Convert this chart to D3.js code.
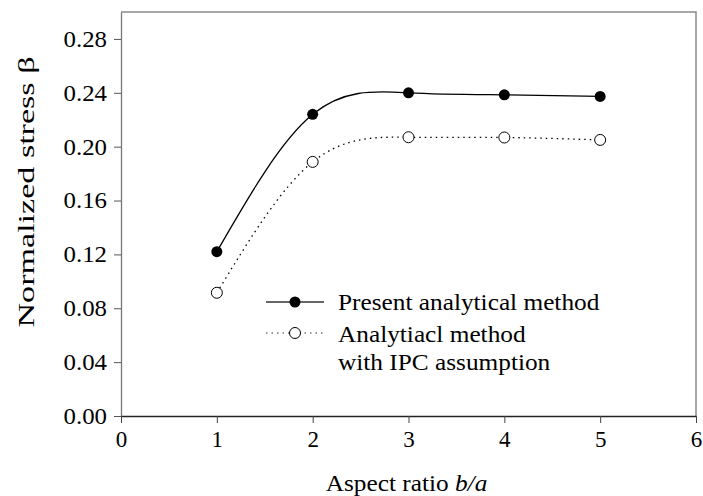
<!DOCTYPE html>
<html>
<head>
<meta charset="utf-8">
<script src="https://cdn.jsdelivr.net/npm/d3@7"></script>
</head>
<body style="margin:0">
<script>
// values
let ratios = [1, 2, 3, 4, 5];
let present = [0.122, 0.224, 0.240, 0.2385, 0.2373];
let ipc = [0.0915, 0.1887, 0.207, 0.2068, 0.205];
let xTicks = [0, 1, 2, 3, 4, 5, 6];
let yTicks = [0.00, 0.04, 0.08, 0.12, 0.16, 0.20, 0.24, 0.28];
let seriesNames = ["Present analytical method", "Analytiacl method", "with IPC assumption"];

let W = 703, H = 496;
let margin = {top: 12, right: 7, bottom: 80, left: 121};
let w = W - margin.left - margin.right;
let h = H - margin.top - margin.bottom;
let stretch = 1.1;   // the reference lettering is a bit wider than Times

function serif (sel, size) {
    sel.style("font-family", "'Liberation Serif'")
       .style("font-size", size + "px")
       .style("fill", "#000");
}

// widen text horizontally to match the picture
function widen (sel, k) {
    sel.each(function () {
        let len = this.getComputedTextLength();
        d3.select(this)
            .attr("textLength", len * k)
            .attr("lengthAdjust", "spacingAndGlyphs");
    });
}

let svg = d3.select("body")
    .append("svg")
    .attr("width", W)
    .attr("height", H);

let g = svg.append("g")
    .attr("transform", "translate(" + margin.left + "," + margin.top + ")");

let xScale = d3.scaleLinear().domain([0, 6]).range([0, w]);
let yScale = d3.scaleLinear().domain([0, 0.30]).range([h, 0]);

// frame (top and right in grey)
g.append("path")
    .attr("d", "M0,0H" + w + "V" + h)
    .attr("fill", "none")
    .attr("stroke", "#8a8a8a")
    .attr("stroke-width", 1.5);

let yaxis = g.append("g")
    .call(d3.axisLeft(yScale).tickValues(yTicks).tickFormat(d3.format(".2f"))
        .tickSize(7).tickPadding(7).tickSizeOuter(0));
yaxis.select(".domain").attr("stroke", "#777").attr("stroke-width", 1.3);
yaxis.selectAll(".tick line").attr("stroke", "#555");
yaxis.selectAll("text").call(serif, 23).call(widen, 1.08);

let xaxis = g.append("g")
    .attr("transform", "translate(0," + h + ")")
    .call(d3.axisBottom(xScale).tickValues(xTicks).tickFormat(d3.format("d"))
        .tickSize(7).tickPadding(8).tickSizeOuter(0));
xaxis.select(".domain").attr("stroke", "#222").attr("stroke-width", 1.3);
xaxis.selectAll(".tick line").attr("stroke", "#444");
xaxis.selectAll("text").call(serif, 23);

// axis titles
let xt = svg.append("text")
    .attr("x", margin.left + xScale(3) - 2)
    .attr("y", 491)
    .attr("text-anchor", "middle")
    .call(serif, 23);
xt.append("tspan").text("Aspect ratio ");
xt.append("tspan").style("font-style", "italic").text("b/a");
xt.call(widen, stretch);

svg.append("text")
    .attr("transform", "translate(34," + 192 + ")rotate(-90)")
    .attr("text-anchor", "middle")
    .call(serif, 23)
    .text("Normalized stress \u03b2")
    .attr("textLength", 271)
    .attr("lengthAdjust", "spacingAndGlyphs");

let line = d3.line()
    .x((d, i) => xScale(ratios[i]))
    .y(d => yScale(d))
    .curve(d3.curveNatural);

g.append("path")
    .datum(present)
    .attr("d", line)
    .attr("fill", "none")
    .attr("stroke", "#000")
    .attr("stroke-width", 1.3);

g.append("path")
    .datum(ipc)
    .attr("d", line)
    .attr("fill", "none")
    .attr("stroke", "#000")
    .attr("stroke-width", 1.3)
    .attr("stroke-dasharray", "1.5,4");

g.selectAll("circle.present")
    .data(present)
    .join("circle")
    .attr("class", "present")
    .attr("cx", (d, i) => xScale(ratios[i]))
    .attr("cy", d => yScale(d))
    .attr("r", 5.5)
    .attr("fill", "#000");

g.selectAll("circle.ipc")
    .data(ipc)
    .join("circle")
    .attr("class", "ipc")
    .attr("cx", (d, i) => xScale(ratios[i]))
    .attr("cy", d => yScale(d))
    .attr("r", 5.5)
    .attr("fill", "#fff")
    .attr("stroke", "#000")
    .attr("stroke-width", 1);

// legend
let lg = svg.append("g").attr("transform", "translate(266,302)");
lg.append("line").attr("x1", 0).attr("x2", 58).attr("y1", 0).attr("y2", 0)
    .attr("stroke", "#333").attr("stroke-width", 1.3);
lg.append("circle").attr("cx", 29).attr("cy", 0).attr("r", 5.5).attr("fill", "#000");
lg.append("line").attr("x1", 0).attr("x2", 58).attr("y1", 31).attr("y2", 31)
    .attr("stroke", "#333").attr("stroke-width", 1.2).attr("stroke-dasharray", "1.5,4");
lg.append("circle").attr("cx", 29).attr("cy", 31).attr("r", 5.5)
    .attr("fill", "#fff").attr("stroke", "#000").attr("stroke-width", 1);
lg.selectAll("text.lab")
    .data(seriesNames)
    .join("text")
    .attr("class", "lab")
    .attr("x", 72)
    .attr("y", (d, i) => [8, 40, 68][i])
    .call(serif, 23)
    .text(d => d)
    .call(widen, stretch);
</script>
</body>
</html>
